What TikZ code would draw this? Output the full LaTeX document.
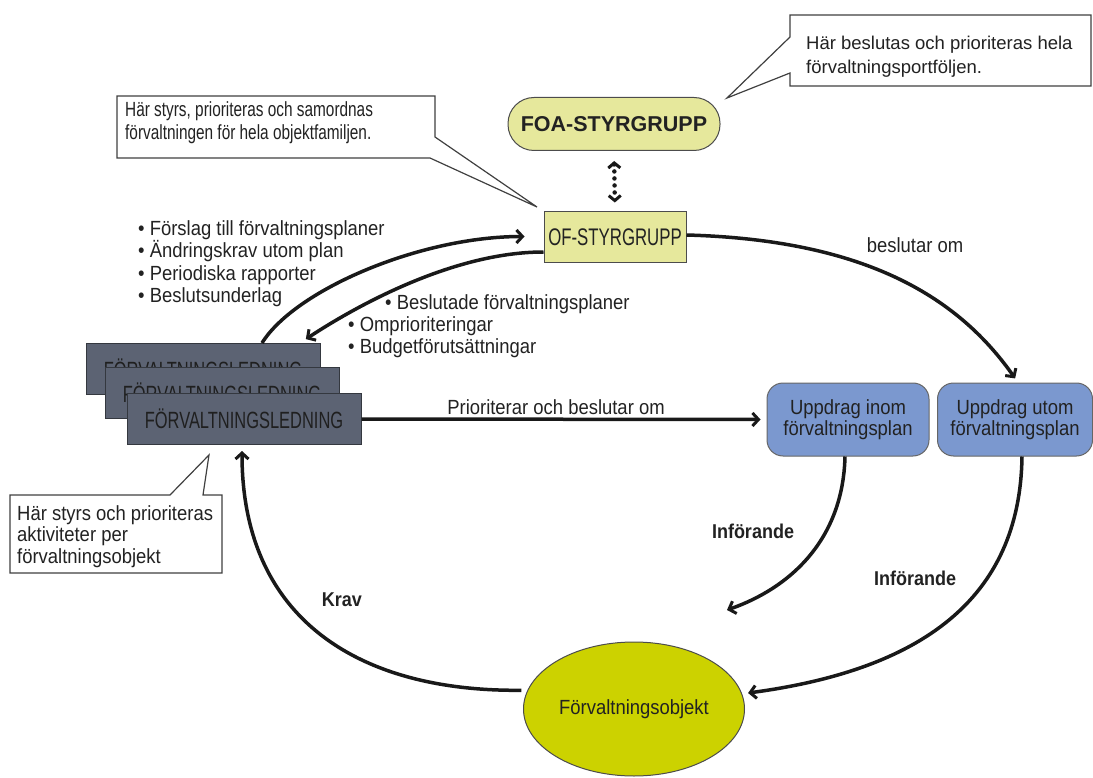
\documentclass[tikz,border=0pt]{standalone}
\usepackage{fontspec}
\setmainfont[FakeStretch=0.9]{Liberation Sans}
\newfontfamily\narrowfont[FakeStretch=0.75]{Liberation Sans}
\newfontfamily\narrowerfont[FakeStretch=0.7]{Liberation Sans}
\newfontfamily\plainfont{Liberation Sans}
\usetikzlibrary{arrows.meta,shapes.geometric}

\definecolor{textgray}{HTML}{222222}
\definecolor{paleyellow}{HTML}{E6E89C}
\definecolor{slate}{HTML}{5C6373}
\definecolor{slateedge}{HTML}{34383F}
\definecolor{uppblue}{HTML}{7B98CF}
\definecolor{objgreen}{HTML}{CCD200}

\begin{document}
\begin{tikzpicture}[x=1pt,y=-1pt,
  every node/.style={text=textgray},
  lbl/.style={font=\fontsize{20.5}{24}\selectfont, inner sep=0pt},
  boldlbl/.style={font=\bfseries\fontsize{20}{24}\selectfont, inner sep=0pt},
  callout/.style={draw=black!75, fill=white, line width=1.2pt, line join=miter},
  yellowbox/.style={draw=black!70, fill=paleyellow, line width=1pt},
  flbox/.style={draw=slateedge, fill=slate, line width=1pt,
    minimum width=234pt, minimum height=51pt, text=black!88,
    font=\narrowerfont\fontsize{23.5}{24}\selectfont},
  upbox/.style={draw=black!60, fill=uppblue, line width=1pt,
    rounded corners=16pt, minimum height=73pt, align=center,
    font=\fontsize{20.5}{21}\selectfont},
  flow/.style={line width=3.5pt, black!90,
    -{Straight Barb[length=6pt,width=13pt,line width=3pt]}},
  dotflow/.style={line width=4.5pt, black!90, line cap=round,
    dash pattern=on 0.01pt off 7pt,
    {Straight Barb[length=5pt,width=12pt,line width=3pt]}-{Straight Barb[length=5pt,width=12pt,line width=3pt]}}
]
\useasboundingbox (0,0) rectangle (1093,778);

% speech bubbles
\draw[callout] (790,15) -- (1091,15) -- (1091,86) -- (790,86) -- (790,73)
  -- (727,98) -- (790,37) -- cycle;
\node[anchor=north west, align=left, inner sep=0pt,
  font=\plainfont\fontsize{18.5}{24}\selectfont] (noteportfolio) at (806,35.5)
  {Här beslutas och prioriteras hela\\förvaltningsportföljen.};

\draw[callout] (117,96) -- (435,96) -- (435,137) -- (537,207) -- (430,158)
  -- (117,158) -- cycle;
\node[anchor=north west, align=left, inner sep=0pt,
  font=\narrowfont\fontsize{20.5}{23.5}\selectfont] (notefamily) at (125,101)
  {Här styrs, prioriteras och samordnas\\förvaltningen för hela objektfamiljen.};

\draw[callout] (10,495) -- (170,495) -- (209,455) -- (203,495) -- (222,495)
  -- (222,573) -- (10,573) -- cycle;
\node[anchor=north west, align=left, inner sep=0pt,
  font=\fontsize{20.5}{21.5}\selectfont] (noteobject) at (17,505)
  {Här styrs och prioriteras\\aktiviteter per\\förvaltningsobjekt};

% steering groups
\node[yellowbox, rounded corners=26pt, minimum width=212pt, minimum height=53pt,
  font=\plainfont\bfseries\fontsize{21.5}{24}\selectfont] (foa) at (614,124)
  {FOA-STYRGRUPP};
\node[yellowbox, minimum width=142pt, minimum height=51pt,
  font=\narrowerfont\fontsize{24}{24}\selectfont] (of) at (615,237.5)
  {OF-STYRGRUPP};
\draw[dotflow, shorten <=10pt, shorten >=9pt] (foa.south) -- (of.north);

% stacked management boxes
\node[flbox] (fl1) at (203,369) {FÖRVALTNINGSLEDNING};
\node[flbox] (fl2) at (222,392.5) {FÖRVALTNINGSLEDNING};
\node[flbox] (fl3) at (244,419) {FÖRVALTNINGSLEDNING};

% assignments and the managed object
\node[upbox, minimum width=162pt] (inom) at (848,419.5)
  {Uppdrag inom\\förvaltningsplan};
\node[upbox, minimum width=155pt] (utom) at (1015,419.5)
  {Uppdrag utom\\förvaltningsplan};
\node[ellipse, draw=black!70, fill=objgreen, line width=1pt,
  minimum width=221pt, minimum height=134pt, inner sep=0pt,
  font=\fontsize{20.5}{24}\selectfont] (obj) at (634,709) {Förvaltningsobjekt};
\coordinate (inomend) at (727,610);

% bullet lists
\node[anchor=north west, align=left, inner sep=0pt,
  font=\fontsize{20.5}{22.5}\selectfont] (upward) at (138,220)
  {• Förslag till förvaltningsplaner\\• Ändringskrav utom plan\\%
   • Periodiska rapporter\\• Beslutsunderlag};
\node[anchor=north west, align=left, inner sep=0pt,
  font=\fontsize{20.5}{22}\selectfont] (downward) at (348,294)
  {\hspace*{37pt}• Beslutade förvaltningsplaner\\• Omprioriteringar\\%
   • Budgetförutsättningar};

% flows
\draw[flow, shorten >=19pt] ([xshift=59pt]fl1.north)
  .. controls (295,290) and (420,236.5) .. ([yshift=1pt]of.west);
\draw[flow, shorten >=7pt] ([yshift=-14.5pt]of.west)
  .. controls (450,252) and (350,310) .. ([xshift=97pt]fl1.north);
\draw[flow, shorten >=5pt] ([yshift=2.5pt]of.east)
  .. controls (870,240) and (960,300) .. ([xshift=3pt]utom.north);
\draw[flow, shorten >=6pt] (fl3.east) -- (inom.west);
\draw[flow] ([xshift=-3pt]inom.south)
  .. controls (843,540) and (790,588) .. (inomend);
\draw[flow, shorten >=6pt] ([xshift=7pt]utom.south)
  .. controls (1020,600) and (920,670) .. (obj.8);
\draw[flow, shorten <=6pt, shorten >=6pt] (obj.170)
  .. controls (360,692) and (242,620) .. ([xshift=-2pt]fl3.south);

% flow labels
\node[lbl] (lbldecide) at (915,245) {beslutar om};
\node[lbl] (lblprio) at (556,407) {Prioriterar och beslutar om};
\node[boldlbl] (lblinf1) at (753,531) {Införande};
\node[boldlbl] (lblinf2) at (915,578) {Införande};
\node[boldlbl] (lblkrav) at (342,600) {Krav};
\end{tikzpicture}
\end{document}
